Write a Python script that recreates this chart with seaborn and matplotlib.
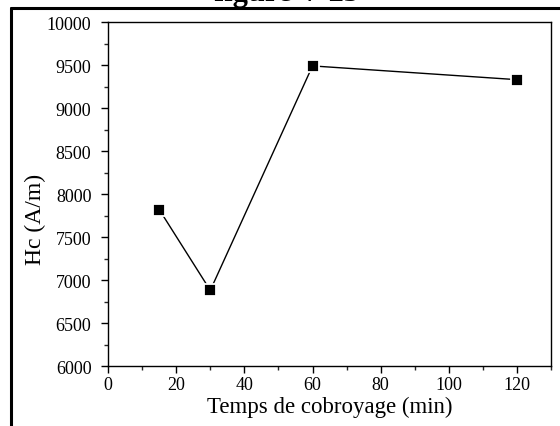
import matplotlib
matplotlib.use("Agg")
import matplotlib.pyplot as plt
from matplotlib.lines import Line2D
from matplotlib.ticker import MultipleLocator
import seaborn as sns
import pandas as pd

# Data
temps = [15, 30, 60, 120]
hc = [7820, 6880, 9490, 9330]
x_ticks = [0, 20, 40, 60, 80, 100, 120]
y_ticks = [6000, 6500, 7000, 7500, 8000, 8500, 9000, 9500, 10000]
title = "figure V-25"
xlabel = "Temps de cobroyage (min)"
ylabel = "Hc (A/m)"

sns.set_theme(style="ticks")
plt.rcParams['font.family'] = ['Liberation Serif', 'DejaVu Serif']

df = pd.DataFrame({"t": temps, "hc": hc})

fig = plt.figure(figsize=(5.6, 4.27), dpi=100)
ax = fig.add_axes([0.193, 0.1405, 0.791, 0.8055])

sns.lineplot(data=df, x="t", y="hc", ax=ax, color="black", linewidth=1.0,
             marker="s", markersize=8.5, markerfacecolor="black",
             markeredgecolor="white", markeredgewidth=1.3)

ax.set_xlim(0, 130)
ax.set_ylim(6000, 10000)
ax.set_xticks(x_ticks)
ax.set_yticks(y_ticks)
ax.set_xticklabels([str(v) for v in x_ticks])
ax.set_yticklabels([str(v) for v in y_ticks])
ax.xaxis.set_minor_locator(MultipleLocator(10))
ax.yaxis.set_minor_locator(MultipleLocator(250))
ax.tick_params(axis="both", which="major", direction="out", length=5, width=1,
               labelsize=13, colors="black")
ax.tick_params(axis="x", which="major", pad=2.5)
ax.tick_params(axis="y", which="major", pad=7)
ax.tick_params(axis="both", which="minor", direction="out", length=3, width=1)
for s in ax.spines.values():
    s.set_visible(True)
    s.set_linewidth(1.0)
    s.set_color("black")

ax.set_xlabel(xlabel, fontsize=16.5, labelpad=2, color="black")
ax.set_ylabel(ylabel, fontsize=17, color="black")
ax.yaxis.set_label_coords(-0.163, 0.43)
ax.yaxis.label.set_va("center")

# outer frame (top and left lines of the table cell)
fig.add_artist(Line2D([10.5 / 560, 1.0], [1 - 9 / 427, 1 - 9 / 427],
                      transform=fig.transFigure, color="black", linewidth=2.2))
fig.add_artist(Line2D([11 / 560, 11 / 560], [1 - 9 / 427, 0.0],
                      transform=fig.transFigure, color="black", linewidth=2.2))

fig.text(286 / 560, 1 - 1.5 / 427, title, ha="center", va="baseline",
         fontsize=22, fontweight="bold", color="black")

fig.savefig("out.png", dpi=100)
